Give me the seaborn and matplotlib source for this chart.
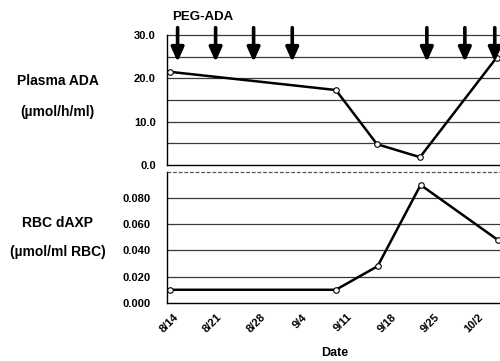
import matplotlib
matplotlib.use("Agg")
import matplotlib.pyplot as plt
import seaborn as sns
import pandas as pd
import numpy as np

# ---- data (x in days after 8/14) ----
plasma_days = [0.2, 26.8, 33.4, 40.3, 52.6]
plasma_ada = [21.5, 17.3, 4.8, 1.8, 24.8]
rbc_days = [0.2, 26.8, 33.5, 40.4, 52.8]
rbc_daxp = [0.010, 0.010, 0.028, 0.090, 0.048]
arrow_days = [1.4, 7.5, 13.6, 19.8, 41.4, 47.5, 52.3]
date_ticks = [0, 7, 14, 21, 28, 35, 42, 49]
date_labels = ["8/14", "8/21", "8/28", "9/4", "9/11", "9/18", "9/25", "10/2"]
top_ticks = [0, 10, 20, 30]
top_labels = ["0.0", "10.0", "20.0", "30.0"]
bot_ticks = [0.0, 0.02, 0.04, 0.06, 0.08]
bot_labels = ["0.000", "0.020", "0.040", "0.060", "0.080"]

sns.set_style("white")
plt.rcParams["font.family"] = ["Liberation Sans", "DejaVu Sans"]
plt.rcParams["font.weight"] = "bold"
plt.rcParams["text.color"] = "black"
plt.rcParams["xtick.color"] = "black"
plt.rcParams["ytick.color"] = "black"

fig = plt.figure(figsize=(5.0, 3.61), dpi=100)
ax1 = fig.add_axes([0.334, 0.543, 0.668, 0.360])
ax2 = fig.add_axes([0.334, 0.161, 0.668, 0.363])

xlim = (-0.3, 53.3)
grid_color = "#3a3a3a"

df1 = pd.DataFrame({"day": plasma_days, "val": plasma_ada})
df2 = pd.DataFrame({"day": rbc_days, "val": rbc_daxp})

for ax, df in ((ax1, df1), (ax2, df2)):
    sns.lineplot(data=df, x="day", y="val", ax=ax, color="black", lw=1.8,
                 marker="o", markersize=4, markerfacecolor="white",
                 markeredgecolor="black", markeredgewidth=0.8, zorder=5,
                 clip_on=False)
    ax.set_xlim(*xlim)
    ax.set_xlabel("")
    ax.set_ylabel("")
    ax.set_xticks(date_ticks)
    ax.tick_params(axis="x", direction="out", length=2.5, width=0.8, color="black")
    ax.tick_params(axis="y", direction="out", length=2, width=0.8, color="black")
    for s in ("top", "right"):
        ax.spines[s].set_visible(False)
    ax.spines["left"].set_color("black")
    ax.spines["left"].set_linewidth(1.0)
    ax.spines["bottom"].set_color("black")
    ax.spines["bottom"].set_linewidth(1.0)

# top panel
ax1.set_ylim(0, 30)
ax1.set_yticks(top_ticks)
ax1.set_yticklabels(top_labels, fontsize=8, fontweight="bold", color="black")
ax1.set_yticks([5, 15, 25], minor=True)
ax1.tick_params(axis="y", which="minor", length=0)
ax1.tick_params(axis="y", pad=6)
ax1.set_xticklabels([])
for yv in [5, 10, 15, 20, 25, 30]:
    ax1.axhline(yv, color=grid_color, lw=0.9, zorder=1, clip_on=False)

for d in arrow_days:
    ax1.annotate("", xy=(d, 23.8), xytext=(d, 31.7),
                 arrowprops=dict(arrowstyle="-|>,head_length=0.85,head_width=0.38",
                                 lw=2.6, color="black", mutation_scale=10,
                                 shrinkA=0, shrinkB=0),
                 annotation_clip=False, zorder=6)

# bottom panel
ax2.set_ylim(0, 0.1)
ax2.set_yticks(bot_ticks)
ax2.set_yticklabels(bot_labels, fontsize=8, fontweight="bold", color="black")
ax2.tick_params(axis="y", pad=10)
for yv in [0.02, 0.04, 0.06, 0.08]:
    ax2.axhline(yv, color=grid_color, lw=0.9, zorder=1)
ax2.axhline(0.1, color="#555555", lw=0.9, ls=(0, (3, 1.5)), zorder=1, clip_on=False)
ax2.set_xticklabels(date_labels, rotation=45, ha="center", va="top",
                    fontsize=8, fontweight="bold", color="black")
ax2.tick_params(axis="x", pad=4)

# texts
fig.text(0.405, 0.953, "PEG-ADA", fontsize=9.5, fontweight="bold",
         ha="center", va="center", color="black")
fig.text(0.115, 0.776, "Plasma ADA", fontsize=10, fontweight="bold",
         ha="center", va="center", color="black")
fig.text(0.115, 0.691, "(\u00b5mol/h/ml)", fontsize=10, fontweight="bold",
         ha="center", va="center", color="black")
fig.text(0.116, 0.383, "RBC dAXP", fontsize=10, fontweight="bold",
         ha="center", va="center", color="black")
fig.text(0.116, 0.303, "(\u00b5mol/ml RBC)", fontsize=10, fontweight="bold",
         ha="center", va="center", color="black")
fig.text(0.67, 0.022, "Date", fontsize=9, fontweight="bold",
         ha="center", va="center", color="black")

fig.savefig("out.png", dpi=100)
